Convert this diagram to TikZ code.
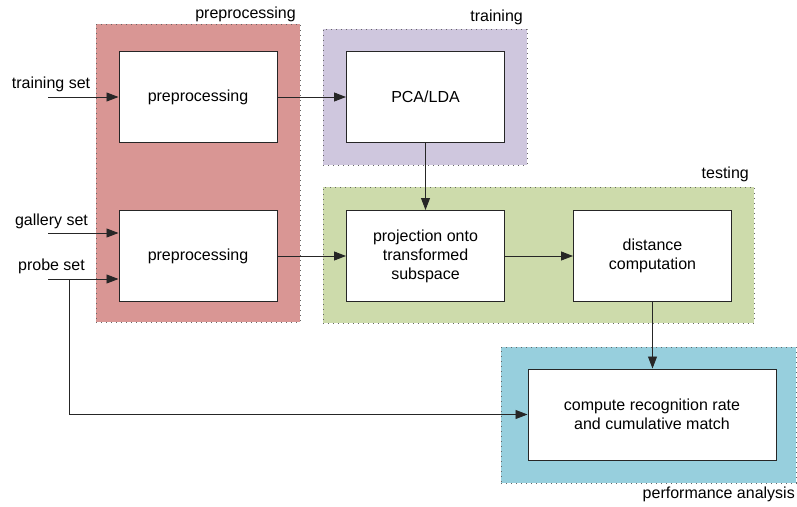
\documentclass[tikz,border=0pt]{standalone}
\usepackage{fontspec}
\setmainfont{Liberation Sans}
\usepackage{tikz}
\usepackage{xcolor}
\usetikzlibrary{arrows.meta}
\definecolor{pre-red}{HTML}{D99694}
\definecolor{train-purple}{HTML}{CFC7DE}
\definecolor{test-green}{HTML}{CDDBAB}
\definecolor{perf-blue}{HTML}{97CFDD}
\tikzset{
    group-box/.style = {draw=black!60, line width=0.8pt, dash pattern=on 0.8pt off 4.2pt, rectangle, inner sep=0pt},
    group-title/.style = {font=\fontsize{16}{19}\selectfont, inner sep=0pt, anchor=base east},
    stage-box/.style = {draw=black!85, fill=white, line width=1pt, rectangle, inner sep=2pt, align=center, minimum width=158pt, minimum height=91pt, font=\fontsize{16}{19}\selectfont},
    input-label/.style = {font=\fontsize{16}{19}\selectfont, inner sep=0pt, anchor=base},
    flow-arrow/.style = {draw=black!85, line width=0.9pt, -{Triangle[length=12pt,width=9pt]}},
}

\begin{document}
\begin{tikzpicture}[x=1pt, y=-1pt]
\useasboundingbox (0,0) rectangle (797,506);
% group backgrounds
\node [group-box, fill=pre-red, minimum width=204pt, minimum height=298pt] (pre-group) at (198,173) {};
\node [group-box, fill=train-purple, minimum width=204pt, minimum height=136pt] (train-group) at (425,97) {};
\node [group-box, fill=test-green, minimum width=431pt, minimum height=136pt] (test-group) at (538.5,255) {};
\node [group-box, fill=perf-blue, minimum width=295pt, minimum height=136pt] (perf-group) at (648.5,415) {};
\node [group-title] (pre-title) at (296,18) {preprocessing};
\node [group-title] (train-title) at (523,21) {training};
\node [group-title] (test-title) at (749,178) {testing};
\node [group-title] (perf-title) at (795,498) {performance analysis};

% stages
\node [stage-box] (pre-train) at (198,97) {preprocessing};
\node [stage-box] (pre-test) at (198,256) {preprocessing};
\node [stage-box] (pca) at (425.5,97) {PCA/LDA};
\node [stage-box] (proj) at (425.5,256) {projection onto\\transformed\\subspace};
\node [stage-box] (dist) at (652.5,256) {distance\\computation};
\node [stage-box, minimum width=248pt] (match) at (652,414.5) {compute recognition rate\\and cumulative match};

% inputs
\coordinate (train-in) at (48,97);
\coordinate (gallery-in) at (48,233);
\coordinate (probe-in) at (48,279);
\coordinate (probe-branch) at (69,279);
\node [input-label] (train-label) at (51,88) {training set};
\node [input-label] (gallery-label) at (51.5,225) {gallery set};
\node [input-label] (probe-label) at (51.5,270) {probe set};

% connectors
\draw [flow-arrow] (train-in) -- (pre-train.west);
\draw [flow-arrow] (gallery-in) -- (gallery-in -| pre-test.west);
\draw [flow-arrow] (probe-in) -- (probe-in -| pre-test.west);
\draw [flow-arrow] (pre-train.east) -- (pca.west);
\draw [flow-arrow] (pre-test.east) -- (proj.west);
\draw [flow-arrow] (pca.south) -- (proj.north);
\draw [flow-arrow] (proj.east) -- (dist.west);
\draw [flow-arrow] (dist.south) -- (dist.south |- match.north);
\draw [flow-arrow] (probe-branch) |- (match.west);
\end{tikzpicture}
\end{document}
